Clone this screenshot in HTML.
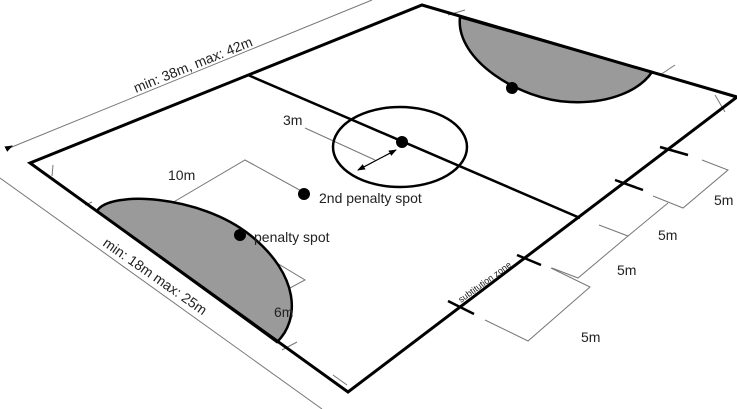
<!DOCTYPE html>
<html><head><style>html,body{margin:0;padding:0;background:#fff}svg{display:block}</style></head><body>
<svg width="737" height="409" viewBox="0 0 737 409" xmlns="http://www.w3.org/2000/svg" font-family="Liberation Sans, sans-serif">
<defs><marker id="a" markerWidth="8" markerHeight="8" refX="7" refY="4" orient="auto"><path d="M0,1 L8,4 L0,7z" fill="#000"/></marker></defs>
<g stroke="#777" stroke-width="1" fill="none">
<line x1="7" y1="149" x2="372" y2="0"/>
<line x1="0" y1="178" x2="322" y2="409"/>
<polyline points="160,210 245,160 305,193"/>
<polyline points="305,128 375,160"/>
<polyline points="112,220 152,200"/>
<polyline points="247,245 305,280 275,296"/>
<polyline points="53,165 52,176"/>
<polyline points="448,15 465,10"/>
<polyline points="660,75 675,65"/>
<polyline points="715,95 725,112"/>
<polyline points="333,375 347,385"/>
<polyline points="282,350 297,342"/>
<polyline points="85,205 92,202"/>
<polyline points="702,160 728,170 683,208 653,196"/>
<polyline points="599,225 628,236 668,203"/>
<polyline points="552,268 578,278 628,236"/>
<polyline points="485,320 528,341 590,287 551,268"/>
</g>
<line x1="8" y1="148" x2="12" y2="146" stroke="#000" marker-end="url(#a)"/>
<path d="M97,211 C110,190 200,195 250,235 C300,275 300,320 277,342 Z" fill="#9a9a9a" stroke="#000" stroke-width="2.5"/>
<path d="M460,17 C455,60 520,100 570,102 C610,104 640,90 652,72 Z" fill="#9a9a9a" stroke="#000" stroke-width="2.5"/>
<polygon points="30,163 422,5 737,97 348,392" fill="none" stroke="#000" stroke-width="3"/>
<line x1="248" y1="75" x2="580" y2="218" stroke="#000" stroke-width="2.5"/>
<ellipse cx="400" cy="147" rx="67" ry="40" fill="none" stroke="#000" stroke-width="2.5"/>
<line x1="358" y1="170" x2="396" y2="150" stroke="#000" stroke-width="1" marker-end="url(#a)"/>
<line x1="394" y1="151" x2="358" y2="170" stroke="#000" stroke-width="1" marker-end="url(#a)"/>
<g fill="#000"><circle cx="402" cy="142" r="6"/><circle cx="304" cy="194" r="6"/><circle cx="240" cy="235" r="6"/><circle cx="512" cy="88" r="6"/></g>
<g stroke="#000" stroke-width="2.5">
<line x1="660" y1="147" x2="688" y2="155"/>
<line x1="615" y1="180" x2="643" y2="190"/>
<line x1="517" y1="255" x2="541" y2="265"/>
<line x1="448" y1="301" x2="474" y2="314"/>
</g>
<g font-size="14" fill="#222">
<text x="283" y="125">3m</text>
<text x="168" y="180">10m</text>
<text x="319" y="203">2nd penalty spot</text>
<text x="254" y="242">penalty spot</text>
<text x="274" y="317">6m</text>
<text x="714" y="205">5m</text>
<text x="658" y="240">5m</text>
<text x="617" y="275">5m</text>
<text x="581" y="342">5m</text>
<text transform="translate(136,93) rotate(-22)">min: 38m, max: 42m</text>
<text transform="translate(102,245) rotate(35)">min: 18m max: 25m</text>
<text font-size="9" transform="translate(461,303) rotate(-36)">subtitution zone</text>
</g>
</svg>
</body></html>
